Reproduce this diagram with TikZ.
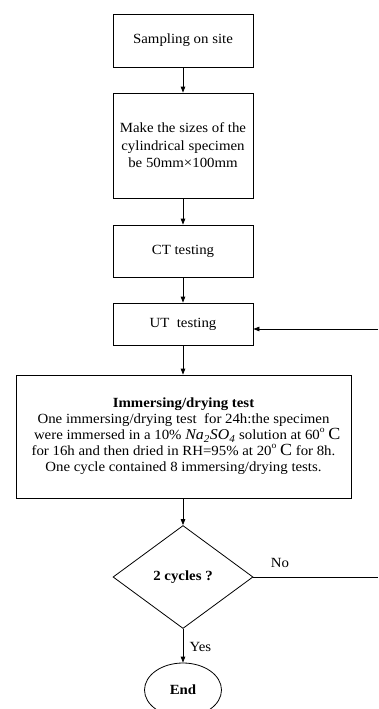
\documentclass[tikz,border=0pt]{standalone}
\usepackage{fontspec}
\setmainfont{Liberation Serif}[FakeStretch=1.06]
\usepackage{tikz}
\usetikzlibrary{arrows.meta,shapes.geometric,positioning}

\begin{document}
\begin{tikzpicture}[x=1pt, y=-1pt,
    procbox/.style={draw, line width=0.8pt, minimum width=140pt, inner sep=0pt, align=center, font=\fontsize{14}{17.5}\selectfont},
    flow/.style={-{Triangle[length=6pt,width=4.5pt]}, line width=0.8pt}]
    \useasboundingbox (0,0) rectangle (378,709);

    % Preparation
    \node[procbox, minimum height=53pt] (samp) at (183,40.5) {Sampling on site};
    \node[procbox, minimum height=105pt] (size) at (183,145.5) {Make the sizes of the\\cylindrical specimen\\be 50mm×100mm};
    \node[procbox, minimum height=52pt] (ct) at (183,251) {CT testing};
    \node[procbox, minimum height=42pt] (ut) at (183,324) {UT\ \ testing};
    \draw[flow] (samp) -- (size);
    \draw[flow] (size) -- (ct);
    \draw[flow] (ct) -- (ut);

    % Immersing/drying
    \node[draw, line width=0.8pt, minimum width=335pt, minimum height=123pt, inner sep=0pt, align=center,
          font=\fontsize{14}{16}\selectfont] (imm) at (183.5,436.5)
        {\textbf{Immersing/drying test}\\
         One immersing/drying test\ \ for 24h:the specimen\\
         \ \ were immersed in a 10\% {\fontsize{15}{16}\selectfont\itshape Na\textsubscript{2}SO\textsubscript{4}} solution at 60\raisebox{1.1ex}{\fontsize{9}{9}\selectfont o}\ {\fontsize{17}{16}\selectfont C}\\
         for 16h and then dried in RH=95\% at 20\raisebox{1.1ex}{\fontsize{9}{9}\selectfont o}\ {\fontsize{17}{16}\selectfont C} for 8h.\\
         One cycle contained 8 immersing/drying tests.};
    \draw[flow] (ut.south) -- (ut.south |- imm.north);

    % Decision
    \node[draw, diamond, line width=0.8pt, minimum width=140pt, minimum height=103pt, inner sep=0pt,
          font=\fontsize{14}{16}\selectfont\bfseries] (dec) at (183,577) {2 cycles ?};
    \draw[flow] (imm.south -| dec.north) -- (dec.north);
    \node[draw, ellipse, line width=0.8pt, minimum width=77pt, minimum height=54pt, inner sep=0pt,
          font=\fontsize{14}{16}\selectfont\bfseries] (endn) at (183,690) {End};
    \draw[flow] (dec) -- (endn);
    \node[anchor=west, font=\fontsize{14}{16}\selectfont] (yes) at (186,647) {Yes};

    % Loop back
    \coordinate (noend) at (378,577);
    \coordinate (back) at (378,329);
    \draw[line width=0.8pt] (dec.east) -- (noend);
    \node[font=\fontsize{14}{16}\selectfont] (no) at (280,563) {No};
    \draw[flow] (back) -- (back -| ut.east);
\end{tikzpicture}
\end{document}
